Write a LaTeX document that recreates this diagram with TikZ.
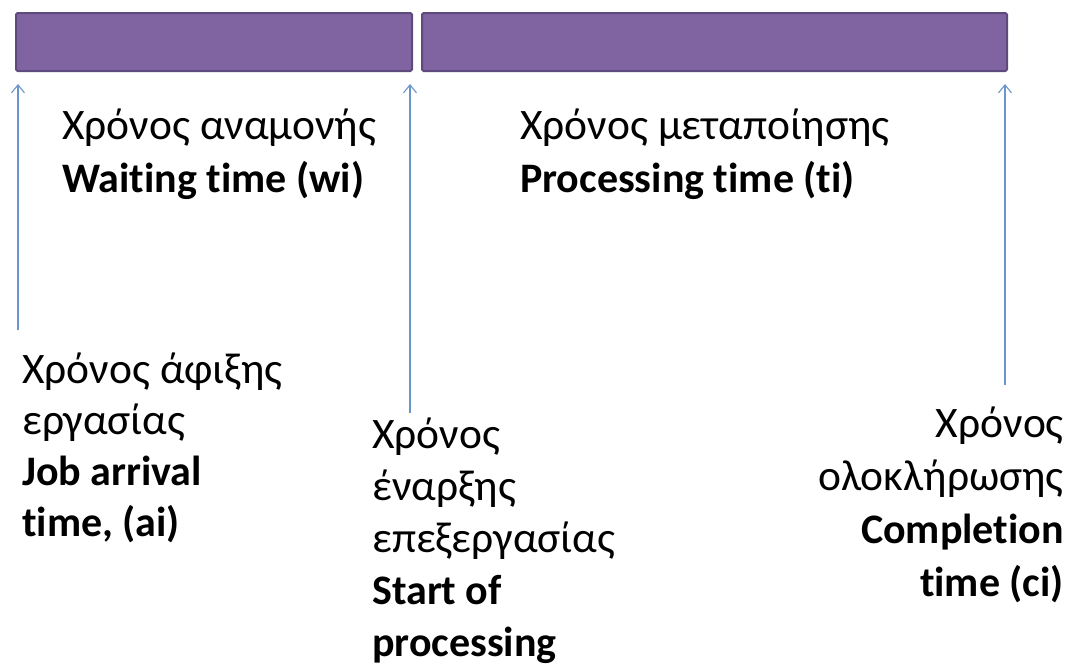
\documentclass[tikz,border=0pt]{standalone}
\usepackage{fontspec}
\setmainfont{Carlito}[Ligatures=CommonOff]
\usetikzlibrary{arrows.meta}
\definecolor{barfill}{HTML}{8064A2}
\definecolor{barline}{HTML}{5E4A7C}
\definecolor{arrcol}{HTML}{6A96CC}
\newcommand{\fl}{\rule{0pt}{35pt}}
\newcommand{\gk}[1]{{\fontsize{43.5}{\the\baselineskip}\selectfont #1}}
\begin{document}
\begin{tikzpicture}[x=1pt,y=-1pt,
  bar/.style={fill=barfill,draw=barline,line width=2pt,rounded corners=1.5pt},
  arr/.style={draw=arrcol,line width=1.1pt,-{Straight Barb[length=8pt,width=13pt,line width=1.1pt]}},
  lbl/.style={inner sep=0pt,font=\fontsize{42}{52}\selectfont,text=black}]
\useasboundingbox (0,0) rectangle (1069,670);
\path[bar] (16,13) rectangle (412,71);
\path[bar] (422,13) rectangle (1007,71);
\coordinate (a1b) at (18,330); \coordinate (a1t) at (18,84);
\coordinate (a2b) at (410,413); \coordinate (a2t) at (410,84);
\coordinate (a3b) at (1005,385); \coordinate (a3t) at (1005,84);
\draw[arr] (a1b) -- (a1t);
\draw[arr] (a2b) -- (a2t);
\draw[arr] (a3b) -- (a3t);
\node[lbl,font=\fontsize{42}{53}\selectfont,anchor=north west,align=left] (wait) at (62,104) {\fl\gk{Χρόνος αναμονής}\\\textbf{Waiting time (wi)}};
\node[lbl,font=\fontsize{42}{53}\selectfont,anchor=north west,align=left] (proc) at (520,104) {\fl\gk{Χρόνος μεταποίησης}\\\textbf{Processing time (ti)}};
\node[lbl,font=\fontsize{42}{51}\selectfont,anchor=north west,align=left] (arrv) at (22,348) {\fl\gk{Χρόνος άφιξης}\\\gk{εργασίας}\\\textbf{Job arrival}\\\textbf{time, (ai)}};
\node[lbl,font=\fontsize{42}{52}\selectfont,anchor=north west,align=left] (strt) at (372,413) {\fl\gk{Χρόνος}\\\gk{έναρξης}\\\gk{επεξεργασίας}\\\textbf{Start of}\\\textbf{processing}};
\node[lbl,font=\fontsize{42}{53}\selectfont,anchor=north east,align=right] (cmpl) at (1064,402) {\fl\gk{Χρόνος}\\\gk{ολοκλήρωσης}\\\textbf{Completion}\\\textbf{time (ci)}};
\end{tikzpicture}
\end{document}
